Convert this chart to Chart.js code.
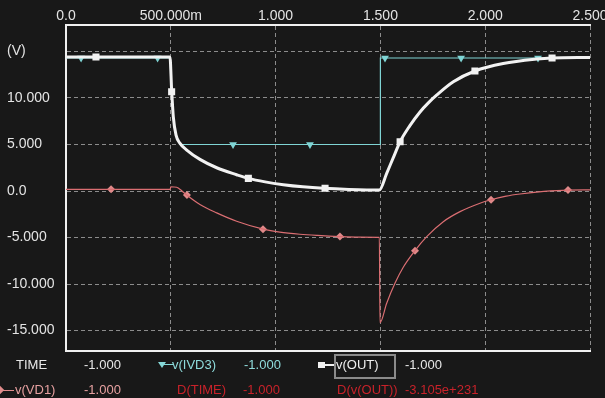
<!DOCTYPE html>
<html>
<head>
<meta charset="utf-8">
<script src="https://cdn.jsdelivr.net/npm/chart.js@4/dist/chart.umd.min.js"></script>
<style>
  body { margin: 0; background: #181818; }
  #wrap { position: relative; width: 605px; height: 398px; font-family: "Liberation Sans", Arial, sans-serif; font-size: 13px; }
  #wrap span.t { position: absolute; line-height: 16px; white-space: nowrap; }
  .mk { position: absolute; }
</style>
</head>
<body>
<div id="wrap">
  <canvas id="chart" width="605" height="398"></canvas>

  <!-- legend / cursor rows, like the probe window -->
  <span class="t" style="left:16px;top:357px;color:#e8e8e8">TIME</span>
  <span class="t" style="left:84px;top:357px;color:#e8e8e8">-1.000</span>
  <div class="mk" style="left:158px;top:362px;width:0;height:0;border-left:4px solid transparent;border-right:4px solid transparent;border-top:6px solid #86d8d8"></div>
  <div class="mk" style="left:164px;top:364px;width:9px;height:1px;background:#86d8d8"></div>
  <span class="t" style="left:172px;top:357px;color:#8fdcdc">v(IVD3)</span>
  <span class="t" style="left:244px;top:357px;color:#8fdcdc">-1.000</span>
  <div class="mk" style="left:318px;top:362px;width:7px;height:6px;background:#f0f0f0"></div>
  <div class="mk" style="left:324px;top:364px;width:11px;height:2px;background:#f0f0f0"></div>
  <div class="mk" style="left:334px;top:354px;width:58px;height:21px;border:2px solid #8a8a8a"></div>
  <span class="t" style="left:336px;top:357px;color:#f0f0f0">v(OUT)</span>
  <span class="t" style="left:405px;top:357px;color:#e8e8e8">-1.000</span>

  <div class="mk" style="left:-3px;top:387px;width:6px;height:6px;background:#e08c8c;transform:rotate(45deg)"></div>
  <div class="mk" style="left:3px;top:390px;width:11px;height:1px;background:#e08c8c"></div>
  <span class="t" style="left:15px;top:382px;color:#e6a0a0">v(VD1)</span>
  <span class="t" style="left:84px;top:382px;color:#e6a0a0">-1.000</span>
  <span class="t" style="left:177px;top:382px;color:#c8222a">D(TIME)</span>
  <span class="t" style="left:243px;top:382px;color:#c8222a">-1.000</span>
  <span class="t" style="left:337px;top:382px;color:#c8222a">D(v(OUT))</span>
  <span class="t" style="left:405px;top:382px;color:#c8222a">-3.105e+231</span>
</div>

<script>
// valores (tiempo en s, tensión en V)
const outT = [0, 0.496, 0.504, 0.512, 0.525, 0.544, 0.576, 0.639, 0.719, 0.814, 0.87, 0.95, 1.037, 1.13, 1.228, 1.35, 1.495, 1.53, 1.56, 1.594, 1.64, 1.689, 1.73, 1.768, 1.848, 1.951, 2.086, 2.246, 2.317, 2.5];
const outV = [14.4, 14.4, 10.85, 7.98, 6.0, 5.12, 4.4, 3.4, 2.5, 1.75, 1.36, 0.98, 0.68, 0.45, 0.29, 0.17, 0.1, 1.9, 3.5, 5.3, 7.0, 8.5, 9.5, 10.3, 11.74, 12.9, 13.7, 14.18, 14.3, 14.36];

// la bajada de v(IVD3) queda tapada por v(OUT) hasta ~0.54
const ivdT = [0, 0.496, 0.504, 0.512, 0.525, 0.544, 1.5, 1.5, 2.5];
const ivdV = [14.3, 14.3, 10.85, 7.98, 6.0, 5.0, 5.0, 14.3, 14.3];

const vdT = [0, 0.497, 0.5, 0.528, 0.552, 0.576, 0.639, 0.719, 0.814, 0.941, 1.02, 1.116, 1.2, 1.304, 1.4, 1.495, 1.498, 1.53, 1.57, 1.609, 1.665, 1.721, 1.8, 1.88, 1.975, 2.023, 2.1, 2.166, 2.28, 2.393, 2.5];
const vdV = [0.18, 0.18, 0.46, 0.4, 0.03, -0.43, -1.45, -2.35, -3.25, -4.1, -4.42, -4.65, -4.78, -4.9, -4.96, -4.98, -14.15, -12.06, -9.9, -8.2, -6.41, -4.91, -3.3, -2.22, -1.32, -0.97, -0.55, -0.32, -0.05, 0.1, 0.12];

// marcadores de cada traza
const outMarkT = [0.143, 0.504, 0.87, 1.236, 1.594, 1.951, 2.319];
const outMarkV = [14.4, 10.67, 1.36, 0.3, 5.3, 12.9, 14.3];
const ivdMarkT = [0.072, 0.437, 0.797, 1.164, 1.522, 1.885, 2.252];
const ivdMarkV = [14.3, 14.3, 5.0, 5.0, 14.3, 14.3, 14.3];
const vdMarkT = [0.215, 0.577, 0.94, 1.307, 1.665, 2.028, 2.395];
const vdMarkV = [0.18, -0.43, -4.1, -4.9, -6.41, -0.95, 0.1];

const xTicks = [0, 0.5, 1, 1.5, 2, 2.5];
const xTickLabels = ['0.0', '500.000m', '1.000', '1.500', '2.000', '2.500'];
const yTicks = [-15, -10, -5, 0, 5, 10, 15];
const yTickLabels = ['-15.000', '-10.000', '-5.000', '0.0', '5.000', '10.000', '(V)'];

const pts = (t, v) => t.map((x, i) => ({ x: x, y: v[i] }));

const FONT = { family: '"Liberation Sans", Arial, sans-serif', size: 14 };
const GRID = { color: '#8c8c8c', lineWidth: 1, drawTicks: false };

function lineSet(data, color, width, order, smooth) {
    return { data: data, showLine: true, borderColor: color, borderWidth: width,
             pointRadius: 0, tension: 0, cubicInterpolationMode: smooth ? 'monotone' : 'default',
             order: order };
}
function markSet(data, color, style, r, rot, order) {
    return { data: data, showLine: false, pointStyle: style, pointRadius: r, pointRotation: rot,
             backgroundColor: color, borderColor: color, borderWidth: 0, order: order };
}

new Chart(document.getElementById('chart'), {
    type: 'scatter',
    data: {
        datasets: [
            lineSet(pts(outT, outV), '#f2f2f2', 3, 0, true),
            markSet(pts(outMarkT, outMarkV), '#f2f2f2', 'rect', 5, 0, 0),
            lineSet(pts(ivdT, ivdV), '#7fd4d4', 1.2, 1, false),
            markSet(pts(ivdMarkT, ivdMarkV), '#7fd4d4', 'triangle', 4.5, 180, 1),
            lineSet(pts(vdT, vdV), '#da6e72', 1.2, 2, true),
            markSet(pts(vdMarkT, vdMarkV), '#e08a8a', 'rectRot', 4, 0, 2),
        ],
    },
    options: {
        responsive: false,
        animation: false,
        layout: { padding: { left: 7, top: 0, right: 0, bottom: 0 } },
        plugins: { legend: { display: false }, tooltip: { enabled: false } },
        scales: {
            x: {
                type: 'linear', position: 'top', min: 0, max: 2.5,
                afterBuildTicks: (s) => { s.ticks = xTicks.map((v) => ({ value: v })); },
                afterFit: (s) => { s.height = 24.5; s.paddingRight = 15; },
                ticks: {
                    color: '#e4e4e4', font: FONT, padding: 0, maxRotation: 0, autoSkip: false,
                    callback: (v) => xTickLabels[xTicks.indexOf(v)],
                },
                grid: GRID,
                border: { display: true, color: '#f0f0f0', width: 2, dash: [4, 3] },
            },
            x2: {
                type: 'linear', position: 'bottom', min: 0, max: 2.5,
                afterFit: (s) => { s.height = 47; },
                ticks: { display: false },
                grid: { display: false, drawTicks: false },
                border: { display: true, color: '#f0f0f0', width: 2 },
            },
            y: {
                type: 'linear', min: -17.2, max: 17.9,
                afterBuildTicks: (s) => { s.ticks = yTicks.map((v) => ({ value: v })); },
                afterFit: (s) => { s.width = 59; },
                ticks: {
                    color: '#e4e4e4', font: FONT, crossAlign: 'far', autoSkip: false,
                    callback: (v) => yTickLabels[yTicks.indexOf(v)],
                },
                grid: GRID,
                border: { display: true, color: '#f0f0f0', width: 2, dash: [4, 3] },
            },
        },
    },
});
</script>
</body>
</html>
